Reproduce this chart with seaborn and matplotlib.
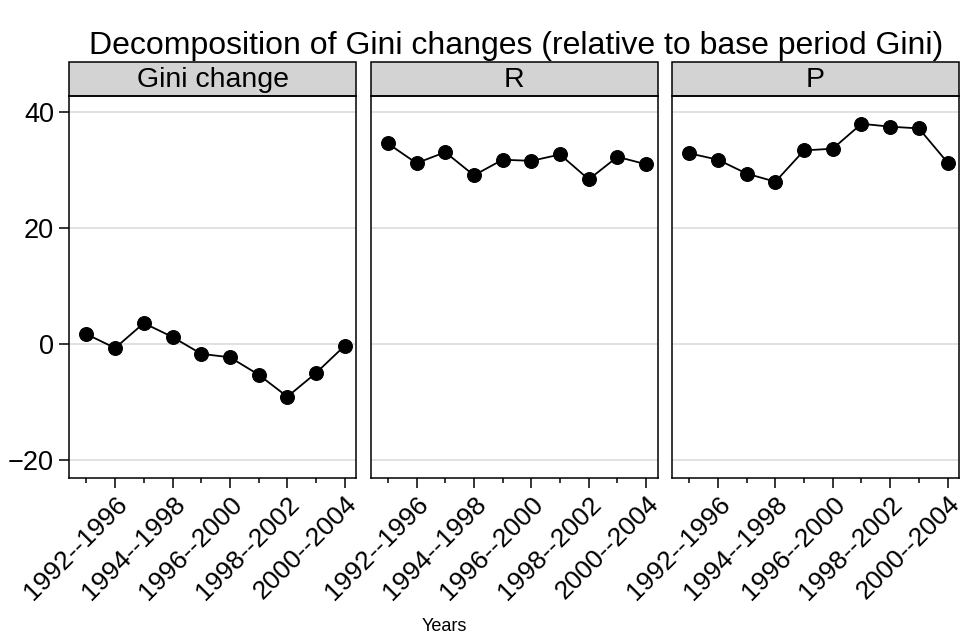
import numpy as np
import pandas as pd
import seaborn as sns
import matplotlib.pyplot as plt
from matplotlib.patches import Rectangle

periods = ['1991--1995', '1992--1996', '1993--1997', '1994--1998', '1995--1999',
           '1996--2000', '1997--2001', '1998--2002', '1999--2003', '2000--2004']
panels = ['Gini change', 'R', 'P']
gini_change = [1.7, -0.7, 3.6, 1.2, -1.7, -2.3, -5.3, -9.1, -5.0, -0.3]
r_values = [34.6, 31.2, 33.1, 29.1, 31.8, 31.6, 32.7, 28.4, 32.3, 31.0]
p_values = [32.9, 31.8, 29.4, 28.0, 33.4, 33.7, 38.0, 37.5, 37.2, 31.3]

df = pd.DataFrame({
    'period': periods * 3,
    'panel': np.repeat(panels, len(periods)),
    'value': gini_change + r_values + p_values,
})

sns.set_style('white')
plt.rcParams['font.family'] = ['Liberation Sans', 'DejaVu Sans']
plt.rcParams.update({'text.color': 'black', 'xtick.color': 'black',
                     'ytick.color': 'black', 'axes.labelcolor': 'black'})

g = sns.FacetGrid(df, col='panel', col_order=panels, sharey=True, sharex=True,
                  height=4, aspect=0.8, despine=False)
g.map_dataframe(sns.lineplot, x='period', y='value', color='black',
                marker='o', markersize=10, markeredgecolor='black',
                linewidth=1.3, sort=False)
g.figure.set_size_inches(9.61, 6.44)
g.figure.subplots_adjust(left=0.072, right=0.998, bottom=0.258, top=0.851,
                         wspace=0.05)

for ax, name in zip(g.axes.flat, panels):
    ax.set_title('')
    ax.set_xlabel('')
    ax.set_ylabel('')
    ax.set_ylim(-23.1, 42.8)
    ax.set_xlim(-0.6, 9.4)
    ax.set_yticks([-20, 0, 20, 40])
    ax.yaxis.grid(True, color='#dedede', linewidth=1.3)
    ax.set_axisbelow(True)
    ax.set_xticks(range(1, 10, 2))
    ax.set_xticklabels(periods[1::2], rotation=45, ha='right',
                       rotation_mode='anchor', fontsize=19)
    ax.set_xticks(range(0, 10, 2), minor=True)
    ax.tick_params(axis='x', which='major', length=7, width=1.1, color='black',
                   labelcolor='black', direction='out', bottom=True, pad=3)
    ax.tick_params(axis='x', which='minor', length=3.5, width=1.1,
                   color='black', direction='out', bottom=True)
    ax.tick_params(axis='y', labelsize=19.5, length=7, width=1.1, pad=4,
                   color='black', labelcolor='black',
                   left=(name == panels[0]))
    for sp in ax.spines.values():
        sp.set_color('black')
        sp.set_linewidth(1.1)
    ax.add_patch(Rectangle((0, 1.0), 1, 0.089, transform=ax.transAxes,
                           facecolor='#d3d3d3', edgecolor='black',
                           linewidth=1.1, clip_on=False))
    ax.text(0.5, 1.042, name, transform=ax.transAxes, ha='center',
            va='center', fontsize=20.5, color='black')

g.figure.text(0.462, 0.027, 'Years', ha='center', va='center', fontsize=13,
              color='black')
g.figure.suptitle('Decomposition of Gini changes (relative to base period Gini)',
                  x=0.537, y=0.952, fontsize=23, color='black')

g.figure.savefig('out.png', dpi=100, facecolor='white')
